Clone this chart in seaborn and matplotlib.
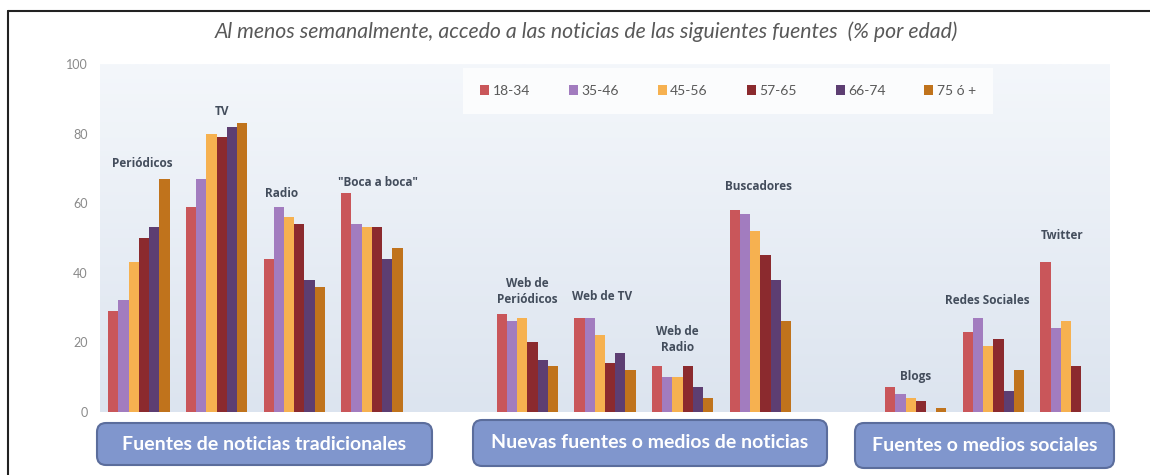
import numpy as np
import pandas as pd
import seaborn as sns
import matplotlib.pyplot as plt
from matplotlib.patches import FancyBboxPatch
from matplotlib.lines import Line2D
from matplotlib.colors import LinearSegmentedColormap
from matplotlib.transforms import IdentityTransform

# age groups and colors
edades = ['18-34', '35-46', '45-56', '57-65', '66-74', '75 ó +']
colores = ['#c9565a', '#a27cbf', '#f6b150', '#8b2a2e', '#5d3e72', '#c0731c']

# % per source and age group
periodicos = [29, 32, 43, 50, 53, 67]
tv = [59, 67, 80, 79, 82, 83]
radio = [44, 59, 56, 54, 38, 36]
boca_a_boca = [63, 54, 53, 53, 44, 47]
web_periodicos = [28, 26, 27, 20, 15, 13]
web_tv = [27, 27, 22, 14, 17, 12]
web_radio = [13, 10, 10, 13, 7, 4]
buscadores = [58, 57, 52, 45, 38, 26]
blogs = [7, 5, 4, 3, np.nan, 1]
redes_sociales = [23, 27, 19, 21, 6, 12]
twitter = [43, 24, 26, 13, np.nan, np.nan]

fuentes = ['Periódicos', 'TV', 'Radio', '"Boca a boca"',
           'Web de\nPeriódicos', 'Web de TV', 'Web de\nRadio', 'Buscadores',
           'Blogs', 'Redes Sociales', 'Twitter']
valores = [periodicos, tv, radio, boca_a_boca, web_periodicos, web_tv,
           web_radio, buscadores, blogs, redes_sociales, twitter]

grupos = ['Fuentes de noticias tradicionales',
          'Nuevas fuentes o medios de noticias',
          'Fuentes o medios sociales']

# spacer slots between the three groups
orden = fuentes[:4] + [' '] + fuentes[4:8] + ['  '] + fuentes[8:]

rows = []
for f, vals in zip(fuentes, valores):
    for e, v in zip(edades, vals):
        rows.append({'fuente': f, 'edad': e, 'pct': v})
df = pd.DataFrame(rows)

sns.set_style('white')
plt.rcParams['font.family'] = ['Lato', 'DejaVu Sans']

W, H = 1150, 475
fig = plt.figure(figsize=(W / 100, H / 100), dpi=100)
fig.patch.set_facecolor('white')
ax = fig.add_axes([100 / W, (H - 411.7) / H, 1010 / W, (411.7 - 64) / H])

sns.barplot(data=df, x='fuente', y='pct', hue='edad', order=orden,
            hue_order=edades, palette=colores, width=0.79, saturation=1,
            linewidth=0, ax=ax, legend=True)

# soft gradient background of the plot area
grad = LinearSegmentedColormap.from_list('bg', ['#dce4ef', '#f4f7fb'])
ax.imshow(np.linspace(0, 1, 256)[:, None], cmap=grad, origin='lower',
          extent=(-0.5, 12.5, 0, 100), aspect='auto', zorder=0)
ax.set_xlim(-0.5, 12.5)
ax.set_ylim(0, 100)
ax.set_yticks(range(0, 101, 20))
ax.tick_params(axis='y', length=0, pad=9, labelsize=9, labelcolor='#8a8a8a')
ax.set_xticks([])
ax.set_xlabel('')
ax.set_ylabel('')
for s in ax.spines.values():
    s.set_visible(False)

# category labels above each cluster
label_pos = {'Periódicos': (0.05, 71.4), 'TV': (1.07, 86.4), 'Radio': (1.84, 62.8),
             '"Boca a boca"': (3.08, 65.9), 'Web de\nPeriódicos': (5.0, 34.6),
             'Web de TV': (5.96, 33.1), 'Web de\nRadio': (6.93, 20.7),
             'Buscadores': (7.97, 64.8), 'Blogs': (10.0, 10.0),
             'Redes Sociales': (10.92, 31.9), 'Twitter': (11.88, 50.7)}
for f in fuentes:
    x, y = label_pos[f]
    ax.text(x, y, f, ha='center', va='center', fontsize=8.5, fontweight='bold',
            color='#434d5c', family=['Open Sans', 'DejaVu Sans'], linespacing=1.3)

# legend
handles, labels = ax.get_legend_handles_labels()
leg = ax.legend(handles, labels, ncol=6, loc='center', bbox_to_anchor=(728 / W, 1 - 91 / H),
                bbox_transform=fig.transFigure, frameon=True, fontsize=10,
                handlelength=0.65, handleheight=0.65, handletextpad=0.25,
                columnspacing=2.8, borderpad=1.2, labelcolor='#595959')
leg.get_frame().set_facecolor('white')
leg.get_frame().set_alpha(0.75)
leg.get_frame().set_edgecolor('none')
leg.get_frame().set_boxstyle('square', pad=0)

fig.text(0.51, 1 - 32 / H,
         'Al menos semanalmente, accedo a las noticias de las siguientes fuentes  (% por edad)',
         ha='center', va='center', fontsize=15.3, style='italic', color='#595959')

# group boxes under the axis (pixel coordinates)
cajas = [(97, 423, 335, 42), (473, 420, 354, 46), (855, 423, 259, 45)]
for (x, y, w, h), g in zip(cajas, grupos):
    p = FancyBboxPatch((x, H - y - h), w, h, boxstyle='round,pad=0,rounding_size=9',
                       transform=IdentityTransform(), facecolor='#8096cd',
                       edgecolor='#5b6d9c', linewidth=1.5)
    fig.add_artist(p)
    fig.text((x + w / 2) / W, 1 - (y + h / 2) / H, g, ha='center', va='center',
             fontsize=14, fontweight='bold', color='white')

# outer frame (only top and left edges are visible)
fig.add_artist(Line2D([8 / W, 1], [1 - 11 / H] * 2, color='#222222', lw=1.5))
fig.add_artist(Line2D([8 / W] * 2, [0, 1 - 11 / H], color='#222222', lw=1.5))

fig.savefig('out.png', dpi=100)
